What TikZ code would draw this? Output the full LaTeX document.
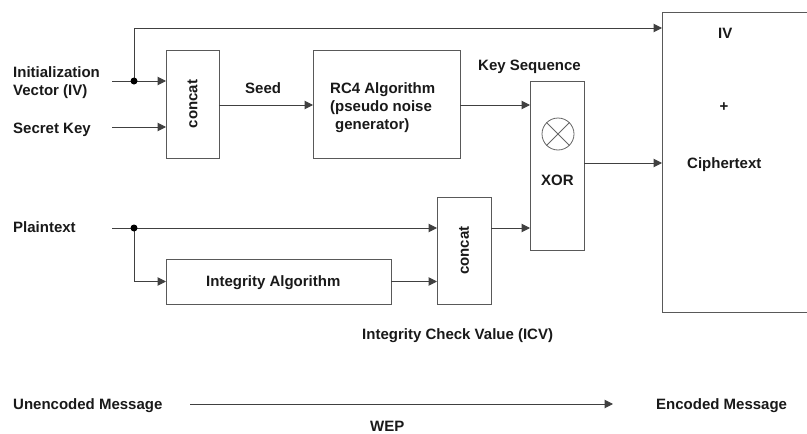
\documentclass[tikz,border=0pt]{standalone}
\usepackage{fontspec}
\setmainfont{Liberation Sans}
\usetikzlibrary{arrows.meta}
\begin{document}
\begin{tikzpicture}[x=1pt,y=-1pt,
  every node/.style={font=\fontsize{15}{18}\selectfont\bfseries, text=black!90},
  blk/.style={draw=black!65, line width=1pt, rectangle, inner sep=0pt, outer sep=0pt, anchor=north west},
  wire/.style={draw=black!75, line width=1pt},
  arr/.style={wire, -{Triangle[length=8.5pt,width=8.5pt]}},
  lbl/.style={anchor=base west, inner sep=0pt},
  dotn/.style={circle, fill=black, inner sep=0pt, minimum size=7pt}]
\useasboundingbox (0,0) rectangle (807,434);
\clip (0,0) rectangle (807,434);
% boxes
\node[blk, minimum width=53pt, minimum height=108pt] (c1) at (166,50) {};
\node[rotate=90] (t1) at (c1.center) {concat};
\node[blk, minimum width=147pt, minimum height=108pt] (rc4) at (313,50) {};
\node[blk, minimum width=54pt, minimum height=169pt] (xor) at (530,81) {};
\node[blk, minimum width=170pt, minimum height=300pt] (big) at (662,12) {};
\node[blk, minimum width=225pt, minimum height=45pt] (int) at (166,259) {};
\node[blk, minimum width=54pt, minimum height=107pt] (c2) at (437,197) {};
\node[rotate=90] (t2) at (c2.center) {concat};
% xor symbol
\node[circle, draw=black!60, line width=0.8pt, minimum size=32pt, inner sep=0pt] (ox) at (558,134) {};
\draw[black!60, line width=0.8pt] (ox.north west) -- (ox.south east) (ox.north east) -- (ox.south west);
% labels
\node[lbl] (l1) at (13,77) {Initialization};
\node[lbl] (l2) at (13,95) {Vector (IV)};
\node[lbl] (l3) at (13,133) {Secret Key};
\node[lbl] (l4) at (245,93) {Seed};
\node[lbl] (l5) at (330,93) {RC4 Algorithm};
\node[lbl] (l6) at (330,111) {(pseudo noise};
\node[lbl] (l7) at (335,129) {generator)};
\node[lbl] (l8) at (478,70) {Key Sequence};
\node[lbl] (l9) at (541,185) {XOR};
\node[lbl] (l10) at (718,38) {IV};
\node (l11) at (724,107) {+};
\node[lbl] (l12) at (687,168) {Ciphertext};
\node[lbl] (l13) at (13,232) {Plaintext};
\node[lbl] (l14) at (206,286) {Integrity Algorithm};
\node[lbl] (l15) at (362,339) {Integrity Check Value (ICV)};
\node[lbl] (l16) at (13,409) {Unencoded Message};
\node[lbl] (l17) at (656,409) {Encoded Message};
\node[lbl] (l18) at (370,431) {WEP};
% coordinates
\coordinate (ivin) at (112,81);
\coordinate (skin) at (112,127);
\coordinate (ptin) at (112,228);
\coordinate (d1) at (134,81);
\coordinate (d2) at (134,228);
\coordinate (uin) at (190,404);
\coordinate (uout) at (613,404);
% wires
\draw[arr] (ivin) -- (c1.west |- ivin);
\draw[arr] (d1) -- (134,28) -- (big.west |- 0,28);
\draw[arr] (skin) -- (c1.west |- skin);
\draw[arr] (c1.east |- 0,105) -- (rc4.west |- 0,105);
\draw[arr] (rc4.east |- 0,105) -- (xor.west |- 0,105);
\draw[arr] (xor.east |- 0,163) -- (big.west |- 0,163);
\draw[arr] (ptin) -- (c2.west |- ptin);
\draw[arr] (d2) -- (d2 |- int.west) -- (int.west);
\draw[arr] (int.east) -- (c2.west |- int.east);
\draw[arr] (c2.east |- 0,228) -- (xor.west |- 0,228);
\draw[arr] (uin) -- (uout);
\node[dotn] at (d1) {};
\node[dotn] at (d2) {};
\end{tikzpicture}
\end{document}
